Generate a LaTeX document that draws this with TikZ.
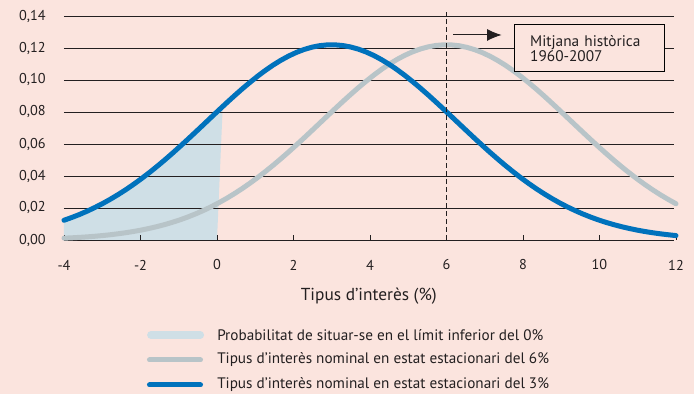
\documentclass[tikz,border=0pt]{standalone}
\usepackage{fontspec}
\setmainfont{PT Sans}
\usetikzlibrary{arrows.meta}
\definecolor{fons}{RGB}{251,228,222}
\definecolor{blau}{RGB}{0,114,188}
\definecolor{gris}{RGB}{184,196,200}
\definecolor{ombra}{RGB}{207,223,230}
\definecolor{tinta}{RGB}{35,31,32}
\tikzset{
  corba/.style={line width=3.75pt,line cap=round},
  graella/.style={line width=0.7pt,tinta},
  etiq/.style={font=\fontsize{10.7}{12}\selectfont,inner sep=0pt,text=tinta},
  llegenda/.style={etiq,anchor=west,font=\fontsize{11.4}{12}\selectfont},
}
\begin{document}
\begin{tikzpicture}[x=28.6875pt,y=1200pt]
        \fill[fons] (-5.6732,-0.09625) rectangle (12.4706,0.15);
        \useasboundingbox (-5.6732,-0.09625) rectangle (12.4706,0.15);
        \fill[ombra] (-4,0) -- plot[domain=-4:0.15,samples=40,variable=\x] (\x,{exp(-(\x-3)^2/21.386)*0.122}) -- (0,0) -- cycle;
        \foreach \v/\t in {0/{0,00},0.02/{0,02},0.04/{0,04},0.06/{0,06},0.08/{0,08},0.10/{0,10},0.12/{0,12},0.14/{0,14}} {
            \draw[graella] (-4,\v) -- (11.95,\v);
            \node[etiq,anchor=east] (ty\v) at (-4.4706,\v) {\t};
        }
        \foreach \x [count=\i] in {-4,-2,...,12} {
            \draw[graella] (\x,0) -- (\x,0.003);
            \node[etiq] (tx\i) at (\x,-0.0156) {\x};
        }
        \node[etiq,font=\fontsize{13}{15}\selectfont] (titolx) at (3.97,-0.035) {Tipus d’interès (\%)};
        \draw[gris,corba,domain=-4:12,samples=80,variable=\x] plot(\x,{exp(-(\x-6)^2/21.386)*0.122});
        \draw[blau,corba,domain=-4:12,samples=80,variable=\x] plot(\x,{exp(-(\x-3)^2/21.386)*0.122});
        \draw[graella,dash pattern=on 3.5pt off 2.5pt] (6,0) -- (6,0.1425);
        \node[etiq,draw,fill=fons,line width=0.75pt,text width=89pt,inner xsep=12pt,minimum height=35.25pt,align=left,font=\fontsize{11.5}{11.5}\selectfont] (mitjana) at (9.739,0.1196875) {Mitjana històrica\\1960-2007};
        \coordinate (fletxa) at (6.17,0.128125);
        \draw[line width=0.75pt,tinta,-{Latex[length=11pt,width=9pt]},shorten >=9pt] (fletxa) -- (fletxa -| mitjana.west);
        \draw[ombra,line width=5.8pt,line cap=round] (-1.726,-0.059375) -- (-0.439,-0.059375);
        \draw[gris,corba] (-1.765,-0.075) -- (-0.431,-0.075);
        \draw[blau,corba] (-1.765,-0.090625) -- (-0.431,-0.090625);
        \node[llegenda] (lleg1) at (0,-0.059375) {Probabilitat de situar-se en el límit inferior del 0\%};
        \node[llegenda] (lleg2) at (0,-0.075) {Tipus d’interès nominal en estat estacionari del 6\%};
        \node[llegenda] (lleg3) at (0,-0.090625) {Tipus d’interès nominal en estat estacionari del 3\%};
\end{tikzpicture}
\end{document}
